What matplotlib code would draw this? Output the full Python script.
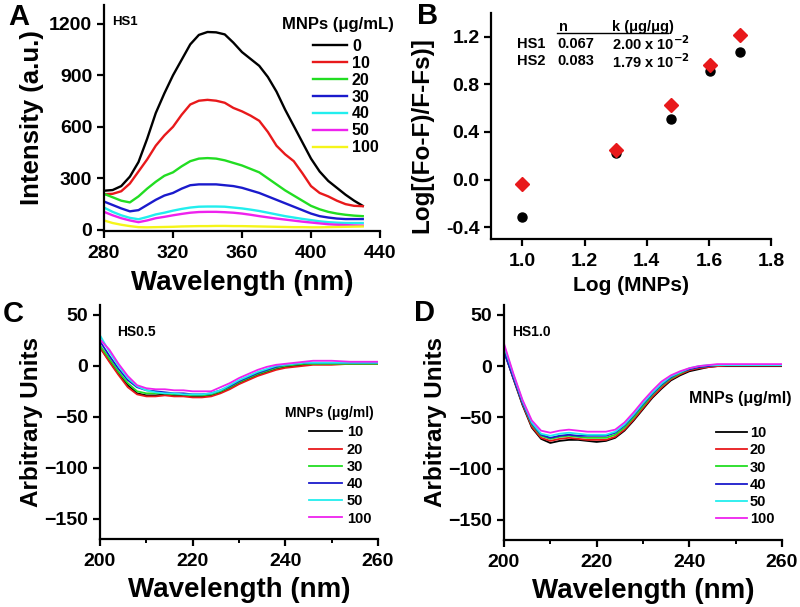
import numpy as np
import matplotlib
matplotlib.use("Agg")
import matplotlib.pyplot as plt
from matplotlib.ticker import FormatStrFormatter

plt.rcParams['font.family'] = ['Liberation Sans', 'DejaVu Sans']
plt.rcParams['font.weight'] = 'bold'
plt.rcParams['axes.labelweight'] = 'bold'

# ---------------- Panel A data ----------------
wl_a = [280, 285, 290, 295, 300, 305, 310, 315, 320, 325, 330, 335, 340, 345, 350, 355,
        360, 365, 370, 375, 380, 385, 390, 395, 400, 405, 410, 415, 420, 425, 430]
conc_a = ['0', '10', '20', '30', '40', '50', '100']
a_0 = [228, 232, 255, 310, 395, 530, 680, 795, 900, 990, 1080, 1135, 1152, 1150, 1138, 1090,
       1035, 995, 955, 890, 805, 700, 605, 510, 415, 340, 285, 245, 205, 170, 140]
a_10 = [208, 210, 225, 270, 340, 410, 490, 550, 600, 670, 730, 752, 757, 752, 740, 710,
        690, 665, 635, 570, 490, 440, 400, 330, 255, 215, 195, 170, 150, 140, 138]
a_20 = [210, 190, 170, 160, 195, 240, 280, 315, 335, 370, 400, 415, 418, 415, 405, 390,
        375, 355, 335, 300, 265, 230, 200, 170, 140, 120, 105, 95, 88, 83, 80]
a_30 = [165, 145, 125, 108, 115, 145, 175, 200, 215, 240, 260, 265, 265, 265, 260, 255,
        245, 230, 215, 195, 175, 155, 135, 115, 95, 80, 72, 66, 63, 63, 63]
a_40 = [130, 105, 85, 70, 62, 75, 90, 100, 112, 122, 130, 135, 136, 136, 135, 130,
        125, 118, 110, 100, 90, 80, 72, 64, 57, 50, 45, 42, 40, 40, 40]
a_50 = [105, 85, 68, 55, 45, 55, 68, 76, 85, 93, 100, 104, 105, 105, 103, 100,
        95, 88, 80, 73, 66, 60, 54, 48, 43, 38, 33, 30, 28, 26, 25]
a_100 = [55, 40, 30, 22, 16, 15, 16, 17, 18, 20, 21, 22, 22, 23, 23, 22,
         22, 21, 20, 19, 18, 17, 16, 16, 15, 15, 16, 17, 18, 19, 20]
colors_a = ['#000000', '#e8191b', '#22dd22', '#1a1acc', '#22eeee', '#ee22ee', '#f5f51a']

# ---------------- Panel B data ----------------
log_mnp = [1.0, 1.301, 1.477, 1.602, 1.699]
b_hs1 = [-0.31, 0.22, 0.51, 0.91, 1.07]
b_hs2 = [-0.04, 0.25, 0.63, 0.96, 1.21]

# ---------------- Panel C / D data ----------------
wl_cd = list(range(200, 262, 2))
conc_cd = ['10', '20', '30', '40', '50', '100']
c_10 = [18, 5, -8, -19, -27, -29, -29, -28, -29, -29, -30, -30, -29, -26, -22, -17,
        -13, -9, -6, -3, -1, 0, 1, 2, 2, 2, 2, 2, 2, 2, 2]
c_20 = [18, 4, -9, -21, -28, -30, -30, -29, -30, -30, -31, -31, -30, -27, -23, -18,
        -14, -10, -7, -4, -2, -1, 0, 1, 1, 1, 1.5, 2, 2, 2, 2]
c_30 = [20, 7, -6, -17, -25, -27, -27, -27, -28, -28, -29, -29, -28, -25, -21, -16,
        -12, -8, -5, -2, 0, 1, 2, 2, 2, 2, 2, 2, 2, 2, 2]
c_40 = [24, 10, -3, -14, -21, -24, -25, -26, -27, -27, -28, -28, -27, -24, -20, -15,
        -11, -7, -4, -1, 1, 2, 3, 3, 3, 3, 3, 3, 3, 3, 3]
c_50 = [30, 14, 0, -12, -20, -24, -26, -27, -27, -28, -28, -28, -27, -24, -19, -14,
        -10, -6, -3, 0, 1, 2, 3, 3, 3, 3, 3, 3, 3, 3, 3]
c_100 = [26, 16, 2, -10, -19, -22, -23, -23, -24, -24, -25, -25, -25, -21, -17, -12,
         -8, -4, -1, 1, 2, 3, 4, 5, 5, 5, 4.5, 4, 4, 4, 4]
d_10 = [15, -12, -38, -60, -71, -75, -73, -72, -72, -73, -74, -73, -70, -63, -53, -42,
        -31, -22, -14, -9, -5, -3, -1, 0, 0, 0, 0, 0, 0, 0, 0]
d_20 = [15, -11, -37, -59, -70, -73, -71, -70, -71, -72, -72, -72, -69, -62, -52, -41,
        -30, -21, -13, -8, -4, -2, -1, 0, 0.5, 0.5, 0.5, 0.5, 0.5, 0.5, 0.5]
d_30 = [16, -10, -36, -57, -68, -71, -69, -68, -69, -70, -70, -70, -67, -60, -50, -39,
        -28, -19, -12, -7, -3, -1, 0, 1, 1, 1, 1, 1, 1, 1, 1]
d_40 = [14, -11, -36, -56, -67, -70, -68, -67, -68, -68, -68, -68, -65, -58, -48, -37,
        -27, -18, -11, -6, -3, -1, 0, 1, 1, 1, 1, 1, 1, 1, 1]
d_50 = [20, -8, -34, -55, -66, -68, -66, -65, -66, -67, -67, -67, -64, -57, -47, -36,
        -26, -17, -10, -6, -2, 0, 1, 1, 1, 1, 1, 1, 1, 1, 1]
d_100 = [22, -7, -33, -53, -63, -65, -63, -62, -63, -64, -64, -64, -62, -55, -45, -34,
         -24, -15, -9, -5, -2, 0, 1, 2, 2, 2, 2, 2, 2, 2, 2]
colors_cd = ['#000000', '#e8191b', '#22dd22', '#1a1acc', '#22eeee', '#ee22ee']

fig = plt.figure(figsize=(8.0, 6.07), dpi=100)


def style_axes(ax, size=14):
    for s in ['top', 'right']:
        ax.spines[s].set_visible(False)
    for s in ['left', 'bottom']:
        ax.spines[s].set_linewidth(1.6)
    ax.tick_params(which='major', direction='out', length=5, width=1.6, labelsize=size)
    ax.tick_params(axis='x', which='major', pad=5)
    ax.tick_params(which='minor', direction='out', length=3, width=1.4)
    for lab in ax.get_xticklabels() + ax.get_yticklabels():
        lab.set_fontweight('bold')


def make_legend(ax, x, y, fs, hl, tp, ls):
    lg = ax.legend(frameon=False, loc='center left', bbox_to_anchor=(x, y), fontsize=fs,
                   handlelength=hl, handletextpad=tp, labelspacing=ls, borderpad=0,
                   borderaxespad=0)
    for t in lg.get_texts():
        t.set_fontweight('bold')
    return lg


# ---- A ----
axA = fig.add_axes([0.130, 0.619, 0.345, 0.373])
for vals, lab, col in zip([a_0, a_10, a_20, a_30, a_40, a_50, a_100], conc_a, colors_a):
    axA.plot(wl_a, vals, color=col, lw=1.7, label=lab)
axA.set_xlim(280, 440)
axA.set_ylim(-8, 1310)
axA.set_xticks([280, 320, 360, 400, 440])
axA.set_yticks([0, 300, 600, 900, 1200])
style_axes(axA)
axA.set_xlabel('Wavelength (nm)', fontsize=20, fontweight='bold', labelpad=6)
axA.set_ylabel('Intensity (a.u.)', fontsize=18.5, fontweight='bold', labelpad=4)
axA.text(0.03, 0.925, 'HS1', transform=axA.transAxes, fontsize=9.5, fontweight='bold',
         va='center')
make_legend(axA, 0.757, 0.593, 11.5, 2.13, 0.31, 0.12)
axA.text(0.846, 0.912, 'MNPs (\u03bcg/mL)', transform=axA.transAxes, fontsize=12,
         fontweight='bold', ha='center', va='center')

# ---- B ----
axB = fig.add_axes([0.614, 0.606, 0.350, 0.373])
axB.plot(log_mnp, b_hs1, 'o', color='black', ms=6.5, ls='none')
axB.plot(log_mnp, b_hs2, 'D', color='#e8191b', ms=7, ls='none')
axB.set_xlim(0.9, 1.8)
axB.set_ylim(-0.5, 1.4)
axB.set_xticks([1.0, 1.2, 1.4, 1.6, 1.8])
axB.set_yticks([-0.4, 0.0, 0.4, 0.8, 1.2])
axB.xaxis.set_major_formatter(FormatStrFormatter('%.1f'))
axB.yaxis.set_major_formatter(FormatStrFormatter('%.1f'))
style_axes(axB)
axB.set_xlabel('Log (MNPs)', fontsize=15, fontweight='bold', labelpad=4)
axB.set_ylabel('Log[(Fo-F)/F-Fs)]', fontsize=17.5, fontweight='bold')
axB.yaxis.set_label_coords(-0.205, 0.46)
tb = dict(transform=axB.transAxes, fontsize=10.5, fontweight='bold', va='center')
axB.text(0.243, 0.938, 'n', **tb)
axB.text(0.432, 0.938, 'k (\u03bcg/\u03bcg)', **tb)
axB.plot([0.236, 0.632], [0.912, 0.912], transform=axB.transAxes, color='black', lw=1)
axB.text(0.093, 0.862, 'HS1', **tb)
axB.text(0.236, 0.862, '0.067', **tb)
axB.text(0.432, 0.862, '2.00 x 10$^{\\mathbf{-2}}$', **tb)
axB.text(0.093, 0.785, 'HS2', **tb)
axB.text(0.236, 0.785, '0.083', **tb)
axB.text(0.432, 0.785, '1.79 x 10$^{\\mathbf{-2}}$', **tb)


def cd_panel(rect, series, tag, tagx):
    ax = fig.add_axes(rect)
    for vals, lab, col in zip(series, conc_cd, colors_cd):
        ax.plot(wl_cd, vals, color=col, lw=1.3, label=lab)
    ax.set_xlim(200, 260)
    ax.set_ylim(-170, 60)
    ax.set_xticks([200, 220, 240, 260])
    ax.set_xticks([210, 230, 250], minor=True)
    ax.set_yticks([-150, -100, -50, 0, 50])
    style_axes(ax)
    ax.set_xlabel('Wavelength (nm)', fontsize=20, fontweight='bold', labelpad=5)
    ax.set_ylabel('Arbitrary Units', fontsize=17.5, fontweight='bold', labelpad=1)
    ax.text(tagx, 0.885, tag, transform=ax.transAxes, fontsize=10, fontweight='bold',
            va='center')
    return ax


axC = cd_panel([0.125, 0.112, 0.3475, 0.386], [c_10, c_20, c_30, c_40, c_50, c_100],
               'HS0.5', 0.061)
make_legend(axC, 0.752, 0.271, 10.5, 2.26, 0.34, 0.22)
axC.text(0.825, 0.538, 'MNPs (\u03bcg/ml)', transform=axC.transAxes, fontsize=10,
         fontweight='bold', ha='center', va='center')

axD = cd_panel([0.630, 0.110, 0.3475, 0.388], [d_10, d_20, d_30, d_40, d_50, d_100],
               'HS1.0', 0.029)
make_legend(axD, 0.763, 0.272, 10.5, 2.12, 0.2, 0.22)
axD.text(0.851, 0.60, 'MNPs (\u03bcg/ml)', transform=axD.transAxes, fontsize=11.5,
         fontweight='bold', ha='center', va='center')

for x, y, s in [(0.010, 0.972, 'A'), (0.521, 0.973, 'B'), (0.003, 0.483, 'C'), (0.518, 0.484, 'D')]:
    fig.text(x, y, s, fontsize=21, fontweight='bold', va='center')

fig.savefig('out.png', dpi=100)
